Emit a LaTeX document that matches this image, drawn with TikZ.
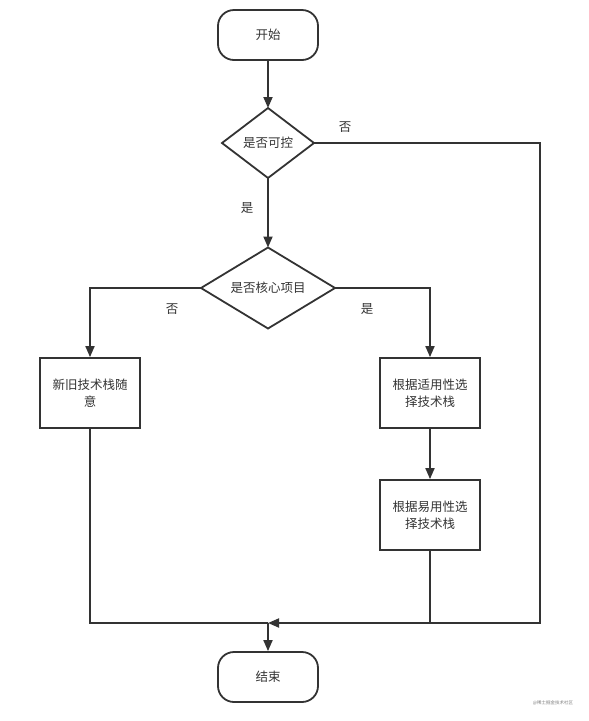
\documentclass[tikz,border=0pt]{standalone}
\usepackage{fontspec}
\setmainfont{Noto Sans CJK SC}
\usetikzlibrary{arrows.meta,shapes.geometric}
\definecolor{ink}{HTML}{333333}

\tikzset{
  terminal/.style={draw=ink,line width=1.8pt,rounded corners=16pt,minimum width=100pt,minimum height=50pt,inner sep=0pt},
  decision/.style={draw=ink,line width=1.8pt,diamond,inner sep=0pt,outer sep=0pt},
  process/.style={draw=ink,line width=1.8pt,minimum width=100pt,minimum height=70pt,align=center,inner sep=0pt},
  flow/.style={draw=ink,line width=1.8pt,-{Triangle[length=11pt,width=9pt]}},
  plain/.style={draw=ink,line width=1.8pt},
  answer/.style={text=ink}
}

\begin{document}
\begin{tikzpicture}[x=1pt,y=-1pt,font=\fontsize{12.5}{17}\selectfont,text=ink]
        \useasboundingbox (0,0) rectangle (589,721);
        \node[terminal] (start) at (268,35) {开始};
        \node[decision,aspect=1.31,minimum width=92pt,minimum height=70pt] (ctrl) at (268,143) {是否可控};
        \node[decision,aspect=1.65,minimum width=134pt,minimum height=81pt] (core) at (268,288) {是否核心项目};
        \node[process] (anyStack) at (90,393) {新旧技术栈随\\意};
        \node[process] (fitStack) at (430,393) {根据适用性选\\择技术栈};
        \node[process] (easyStack) at (430,515) {根据易用性选\\择技术栈};
        \node[terminal] (finish) at (268,677) {结束};
        \coordinate (rail) at (540,623); % right return line
        \coordinate (join) at (268,623);

        \draw[flow] (start) -- (ctrl);
        \draw[flow] (ctrl.east) -| (rail) -- (join);
        \draw[flow] (ctrl) -- (core);
        \draw[flow] (core.west) -| (anyStack);
        \draw[flow] (core.east) -| (fitStack);
        \draw[flow] (fitStack) -- (easyStack);
        \draw[plain] (anyStack) |- (join);
        \draw[plain] (easyStack) -- (easyStack |- join);
        \draw[flow] (join) -- (finish);

        \node[answer] (ctrlNo) at (345,127) {否};
        \node[answer] (ctrlYes) at (247,208) {是};
        \node[answer] (coreNo) at (172,309) {否};
        \node[answer] (coreYes) at (367,309) {是};
        \node[text=gray,font=\fontsize{4.5}{5}\selectfont] (mark) at (553,703) {@稀土掘金技术社区};
      \end{tikzpicture}
\end{document}
